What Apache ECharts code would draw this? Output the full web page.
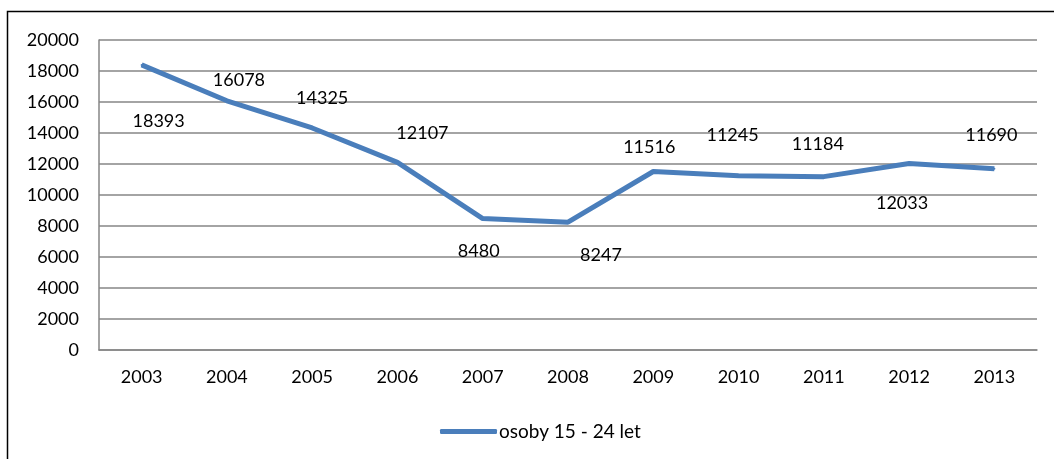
<!DOCTYPE html>
<html>
<head>
<meta charset="utf-8">
<script src="https://cdn.jsdelivr.net/npm/echarts@6/dist/echarts.min.js"></script>
<style>
  html, body { margin: 0; padding: 0; background: #fff; }
  #chart { width: 1054px; height: 459px; }
</style>
</head>
<body>
<div id="chart"></div>
<script type="text/javascript">
  // data
  var years = ['2003', '2004', '2005', '2006', '2007', '2008', '2009', '2010', '2011', '2012', '2013'];
  var persons = [18393, 16078, 14325, 12107, 8480, 8247, 11516, 11245, 11184, 12033, 11690];
  var seriesName = 'osoby 15 - 24 let';
  // where each data label sits relative to its point (as in the original)
  var labelOffsets = [[17, 56], [12, -21], [10, -30], [25, -29], [-4, 33], [33, 33],
                      [-4, -24], [-6, -41], [-6, -32], [-7, 40], [-3, -34]];

  var font = 'Lato, "Open Sans", sans-serif';
  var chart = echarts.init(document.getElementById('chart'));

  var option = {
    animation: false,
    backgroundColor: '#fff',
    graphic: [{
      type: 'rect',
      shape: { x: 7.5, y: 11.5, width: 1200, height: 600 },
      style: { fill: 'none', stroke: '#000', lineWidth: 1.5 },
      silent: true
    }],
    grid: { left: 99, right: 17, top: 40, bottom: 109 },
    legend: {
      data: [seriesName],
      left: 435,
      top: 417,
      icon: 'roundRect',
      itemWidth: 57,
      itemHeight: 5,
      textStyle: { fontFamily: font, fontSize: 19, color: '#000', padding: [0, 0, 0, -3] }
    },
    xAxis: {
      type: 'category',
      data: years,
      boundaryGap: true,
      axisLine: { lineStyle: { color: '#868686', width: 1.5 } },
      axisTick: { show: false },
      axisLabel: { margin: 18, fontFamily: font, fontSize: 18, color: '#000' }
    },
    yAxis: {
      type: 'value',
      min: 0,
      max: 20000,
      interval: 2000,
      axisLine: { show: true, lineStyle: { color: '#868686', width: 1.5 } },
      axisTick: { show: false },
      splitLine: { lineStyle: { color: '#868686', width: 1.5 } },
      axisLabel: {
        margin: 20, fontFamily: font, fontSize: 18, color: '#000',
        formatter: function (v) { return String(v); }
      }
    },
    series: [{
      name: seriesName,
      type: 'line',
      symbol: 'circle',
      symbolSize: 2,
      itemStyle: { color: '#4A7EBB' },
      lineStyle: { color: '#4A7EBB', width: 5 },
      data: persons.map(function (v, i) {
        return {
          value: v,
          label: { show: true, position: 'inside', offset: labelOffsets[i] }
        };
      }),
      label: { fontFamily: font, fontSize: 18, color: '#000' }
    }]
  };
  chart.setOption(option);
</script>
</body>
</html>
